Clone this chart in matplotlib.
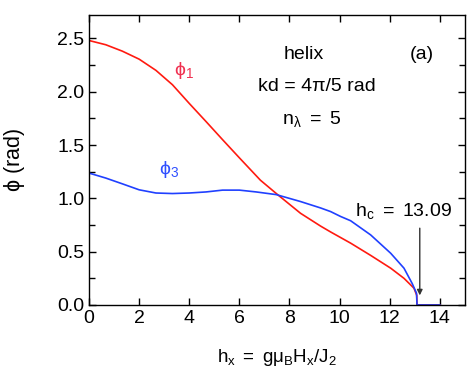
import matplotlib
matplotlib.use("Agg")
import matplotlib.pyplot as plt
from matplotlib.ticker import MultipleLocator

plt.rcParams["font.family"] = ["Liberation Sans", "DejaVu Sans"]
plt.rcParams["mathtext.fontset"] = "custom"
plt.rcParams["mathtext.rm"] = "Liberation Sans"
plt.rcParams["mathtext.it"] = "Liberation Sans"

# phi_1 (red)
h1 = [0.0, 0.67, 1.33, 2.0, 2.67, 3.33, 4.0, 4.67, 5.33, 6.0, 6.84, 7.5,
      8.44, 9.24, 9.64, 10.44, 11.24, 12.04, 12.57, 12.97, 13.08, 13.09, 14.0]
phi1 = [2.48, 2.44, 2.38, 2.305, 2.20, 2.065, 1.89, 1.72, 1.55, 1.38, 1.17,
        1.04, 0.86, 0.74, 0.685, 0.58, 0.465, 0.345, 0.25, 0.157, 0.09, 0.0,
        0.0]

# phi_3 (blue)
h3 = [0.0, 0.67, 1.33, 2.0, 2.67, 3.33, 4.0, 4.67, 5.33, 6.0, 6.67, 7.47,
      8.44, 9.24, 9.64, 10.04, 10.44, 11.24, 12.04, 12.57, 12.9, 13.07, 13.09,
      14.0]
phi3 = [1.237, 1.19, 1.136, 1.08, 1.05, 1.045, 1.05, 1.06, 1.077, 1.077, 1.06,
        1.035, 0.97, 0.91, 0.876, 0.83, 0.79, 0.657, 0.485, 0.345, 0.20, 0.11,
        0.0, 0.0]

fig = plt.figure(figsize=(4.71, 3.82), dpi=100)
ax = fig.add_axes([0.189, 0.2016, 0.798, 0.7594])

ax.plot(h1, phi1, color="#ff1a10", lw=1.2)
ax.plot(h3, phi3, color="#2040ff", lw=1.2)

ax.set_xlim(0, 15)
ax.set_ylim(0, 2.72)
ax.xaxis.set_major_locator(MultipleLocator(2))
ax.yaxis.set_major_locator(MultipleLocator(0.5))
ax.yaxis.set_minor_locator(MultipleLocator(0.25))
ax.tick_params(which="both", direction="in", top=True, right=True,
               labelsize=14, width=1.0)
ax.tick_params(which="major", length=5)
ax.tick_params(which="minor", length=4)
for s in ax.spines.values():
    s.set_linewidth(1.0)
ax.yaxis.set_major_formatter(plt.FuncFormatter(lambda v, p: f"{v:.1f}"))

ax.set_xlabel(r"$\mathregular{h_x\ =\ g\mu_BH_x/J_2}$", fontsize=13.5)
ax.xaxis.set_label_coords(0.5, -0.145)
ax.set_ylabel(r"$\mathregular{\phi}$ (rad)", fontsize=15.5)
ax.yaxis.set_label_coords(-0.165, 0.5)

ax.text(8.56, 2.35, "helix", fontsize=14, ha="center", va="center")
ax.text(13.28, 2.35, "(a)", fontsize=14, ha="center", va="center")
ax.text(9.08, 2.05, "kd = 4π/5 rad", fontsize=14, ha="center", va="center")
ax.text(8.9, 1.74, r"$\mathregular{n_\lambda\ =\ 5}$", fontsize=14,
        ha="center", va="center")
ax.text(3.4, 2.2, r"$\mathregular{\phi_1}$", fontsize=14, color="#f03050",
        va="center")
ax.text(2.8, 1.27, r"$\mathregular{\phi_3}$", fontsize=14, color="#3050ff",
        va="center")

ax.text(12.54, 0.83, r"$\mathregular{h_c\ =\ 13.09}$", fontsize=14,
        ha="center", va="baseline")
ax.annotate("", xy=(13.2, 0.09), xytext=(13.2, 0.72),
            arrowprops=dict(arrowstyle="-|>", color="#333333", lw=1.0,
                            mutation_scale=8, shrinkA=0, shrinkB=0))

fig.savefig("out.png", dpi=100)
